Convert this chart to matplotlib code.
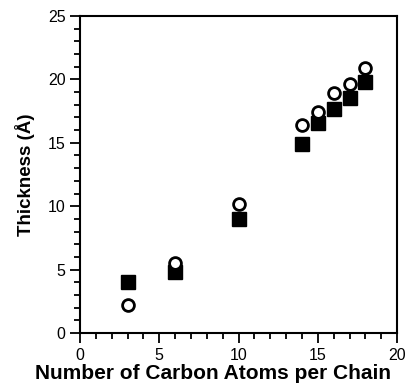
import matplotlib
matplotlib.use("Agg")
import matplotlib.pyplot as plt
from matplotlib.ticker import MultipleLocator

carbons = [3, 6, 10, 14, 15, 16, 17, 18]
thick_squares = [4.0, 4.8, 9.0, 14.9, 16.6, 17.7, 18.5, 19.8]
thick_circles = [2.2, 5.5, 10.2, 16.4, 17.4, 18.9, 19.6, 20.9]

plt.rcParams['font.family'] = ['Liberation Sans', 'DejaVu Sans']

fig = plt.figure(figsize=(4.06, 3.87), dpi=100)
ax = fig.add_axes([0.197, 0.1395, 0.781, 0.8192])
ax.plot(carbons, thick_squares, linestyle='none', marker='s', markersize=9.5,
        color='black', zorder=2)
ax.plot(carbons, thick_circles, linestyle='none', marker='o', markersize=8.5,
        markerfacecolor='white', markeredgecolor='black', markeredgewidth=2.0, zorder=3)

ax.set_xlim(0, 20)
ax.set_ylim(0, 25)
ax.xaxis.set_major_locator(MultipleLocator(5))
ax.xaxis.set_minor_locator(MultipleLocator(1))
ax.yaxis.set_major_locator(MultipleLocator(5))
ax.yaxis.set_minor_locator(MultipleLocator(1))
ax.tick_params(which='both', direction='out', top=False, right=False, width=1.3, labelsize=11.5)
ax.tick_params(which='major', length=7)
ax.tick_params(which='minor', length=4)
for s in ax.spines.values():
    s.set_linewidth(1.5)

ax.set_xlabel('Number of Carbon Atoms per Chain', fontsize=15, fontweight='bold')
ax.xaxis.set_label_coords(0.5234, 0.0336, transform=fig.transFigure)
ax.xaxis.label.set_va('center')
ax.set_ylabel('Thickness (Å)', fontsize=13.5, fontweight='bold', labelpad=9)

fig.savefig('out.png', dpi=100)
